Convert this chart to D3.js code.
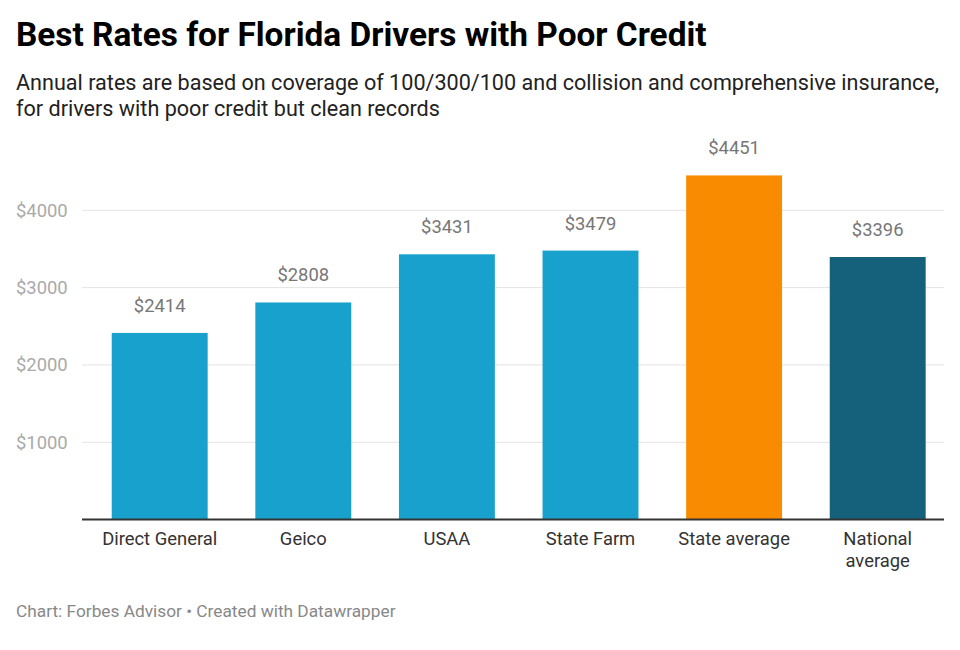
<!DOCTYPE html>
<html><head><meta charset="utf-8">
<script src="https://cdn.jsdelivr.net/npm/d3@7"></script>
<style>
body{margin:0;background:#fff;font-family:Roboto,"Noto Sans",sans-serif;}
svg text{font-family:Roboto,"Noto Sans",sans-serif;}
</style></head>
<body>
<svg id="c" width="960" height="650"></svg>
<script>
const categories = ["Direct General","Geico","USAA","State Farm","State average","National average"];
const values = [2414, 2808, 3431, 3479, 4451, 3396];
const barColors = ["#18a1cd","#18a1cd","#18a1cd","#18a1cd","#f98b00","#15607a"];
const yTicks = [1000, 2000, 3000, 4000];

const svg = d3.select("#c");
const left = 82, right = 944, baseY = 519.6, topY = 210.3;

svg.append("text").attr("x",16).attr("y",46).attr("font-size",33.4).attr("font-weight",700).attr("fill","#000")
  .text("Best Rates for Florida Drivers with Poor Credit");
svg.append("text").attr("x",16).attr("y",90).attr("font-size",21.6).attr("fill","#222")
  .text("Annual rates are based on coverage of 100/300/100 and collision and comprehensive insurance,");
svg.append("text").attr("x",16).attr("y",116).attr("font-size",21.6).attr("fill","#222")
  .text("for drivers with poor credit but clean records");

const y = d3.scaleLinear().domain([0,4000]).range([baseY, topY]);
const x = d3.scaleBand().domain(categories).range([87.9, 949.5]).paddingInner(0.332).paddingOuter(0.166);

const grid = svg.append("g");
grid.selectAll("line").data(yTicks).join("line")
  .attr("x1",left).attr("x2",right).attr("y1",d=>y(d)).attr("y2",d=>y(d))
  .attr("stroke","#e3e3e3").attr("stroke-width",1);
grid.selectAll("text").data(yTicks).join("text")
  .attr("x",16).attr("y",d=>y(d)).attr("dy","0.35em").attr("font-size",18.4).attr("fill","#aaaaaa")
  .text(d=>"$"+d);

svg.append("g").selectAll("rect").data(values).join("rect")
  .attr("x",(d,i)=>x(categories[i])).attr("width",x.bandwidth())
  .attr("y",d=>y(d)).attr("height",d=>baseY-y(d))
  .attr("fill",(d,i)=>barColors[i]);

svg.append("g").selectAll("text").data(values).join("text")
  .attr("x",(d,i)=>x(categories[i])+x.bandwidth()/2).attr("y",d=>y(d)-21)
  .attr("text-anchor","middle").attr("font-size",18.4).attr("fill","#777")
  .text(d=>"$"+d);

svg.append("line").attr("x1",left).attr("x2",right).attr("y1",baseY).attr("y2",baseY)
  .attr("stroke","#333").attr("stroke-width",2);

const xl = svg.append("g").selectAll("text").data(categories).join("text")
  .attr("x",d=>x(d)+x.bandwidth()/2).attr("y",545)
  .attr("text-anchor","middle").attr("font-size",18.4).attr("fill","#333");
xl.each(function(d){
  const t = d3.select(this);
  const lines = d==="National average" ? ["National","average"] : [d];
  lines.forEach((l,i)=>t.append("tspan").attr("x",x(d)+x.bandwidth()/2).attr("dy",i?22:0).text(l));
});

svg.append("text").attr("x",16).attr("y",617).attr("font-size",17.3).attr("fill","#888")
  .text("Chart: Forbes Advisor • Created with Datawrapper");
</script>
</body></html>
